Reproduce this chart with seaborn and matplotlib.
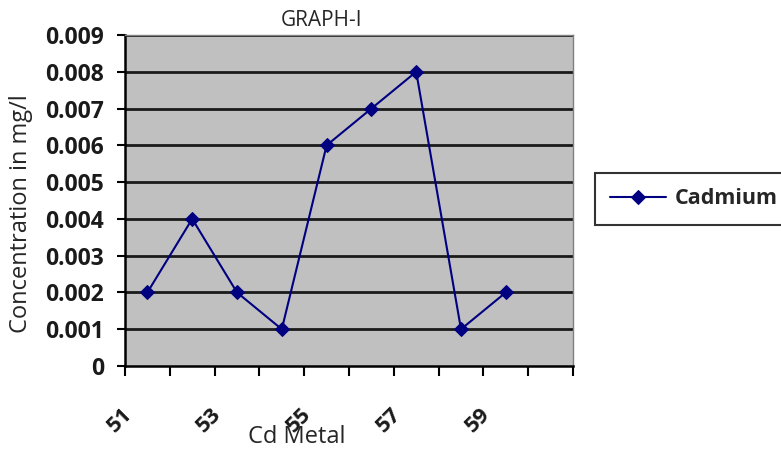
import numpy as np
import pandas as pd
import matplotlib
matplotlib.use("Agg")
import matplotlib.pyplot as plt
import matplotlib.transforms as mtransforms
import seaborn as sns

# Data
categories = ["51", "52", "53", "54", "55", "56", "57", "58", "59", "60"]
cadmium = [0.002, 0.004, 0.002, 0.001, 0.006, 0.007, 0.008, 0.001, 0.002]
y_ticks = [0, 0.001, 0.002, 0.003, 0.004, 0.005, 0.006, 0.007, 0.008, 0.009]
y_labels = ["0", "0.001", "0.002", "0.003", "0.004", "0.005", "0.006", "0.007", "0.008", "0.009"]

df = pd.DataFrame({"pos": np.arange(len(cadmium)), "value": cadmium})

sns.set_theme(style="white")
plt.rcParams["font.family"] = ["Open Sans", "DejaVu Sans"]

fig = plt.figure(figsize=(7.81, 4.51), dpi=100)
ax = fig.add_axes([125 / 781, 1 - 366 / 451, 448 / 781, 331 / 451])
ax.set_facecolor("#C0C0C0")

for yv in y_ticks[1:]:
    ax.axhline(yv, color="#1a1a1a", lw=2, zorder=1)

sns.lineplot(data=df, x="pos", y="value", ax=ax, color="#000080", lw=1.5,
             marker="D", markersize=7.5, markeredgecolor="#000080",
             label="Cadmium", zorder=3, legend=False)

ax.set_xlim(-0.5, len(categories) - 0.5)
ax.set_ylim(0, 0.009)

ax.set_yticks(y_ticks)
ax.set_yticklabels(y_labels, fontsize=16.5, fontweight="bold", color="#1a1a1a")
ax.tick_params(axis="y", direction="out", length=6, width=1.5, color="black", left=True, pad=9)

# category labels every second category, tick marks at boundaries
ax.set_xticks(np.arange(0, len(categories), 2))
ax.set_xticklabels(categories[::2], fontsize=16, fontweight="bold", color="#1a1a1a",
                   rotation=45, ha="right", rotation_mode="anchor")
ax.set_xticks(np.arange(-0.5, len(categories), 1), minor=True)
ax.tick_params(axis="x", which="major", length=0, pad=30, bottom=True)
ax.tick_params(axis="x", which="minor", direction="out", length=7, width=1.5, color="black", bottom=True)
shift = mtransforms.ScaledTranslation(-26 / 100, 4 / 100, fig.dpi_scale_trans)
for lab in ax.get_xticklabels():
    lab.set_transform(lab.get_transform() + shift)

for side in ["top", "right"]:
    ax.spines[side].set_color("#808080")
    ax.spines[side].set_linewidth(1)
for side in ["left", "bottom"]:
    ax.spines[side].set_color("black")
    ax.spines[side].set_linewidth(1.8)

ax.set_xlabel("")
ax.set_ylabel("")
fig.text(322 / 781, 1 - 20 / 451, "GRAPH-I", ha="center", va="center", fontsize=15)
fig.text(297 / 781, 1 - 437 / 451, "Cd Metal", ha="center", va="center", fontsize=17)
fig.text(21 / 781, 1 - 214 / 451, "Concentration in mg/l", ha="center", va="center",
         rotation=90, fontsize=17)

handles, labels = ax.get_legend_handles_labels()
leg = fig.legend(handles, labels, loc="center left", bbox_to_anchor=(595 / 781, 1 - 199 / 451),
                 frameon=True, fancybox=False, edgecolor="black",
                 prop={"weight": "bold", "size": 15.5}, handlelength=2.6, borderpad=0.7,
                 handletextpad=0.4, borderaxespad=0)
leg.get_frame().set_linewidth(1.5)

fig.savefig("out.png", dpi=100)
